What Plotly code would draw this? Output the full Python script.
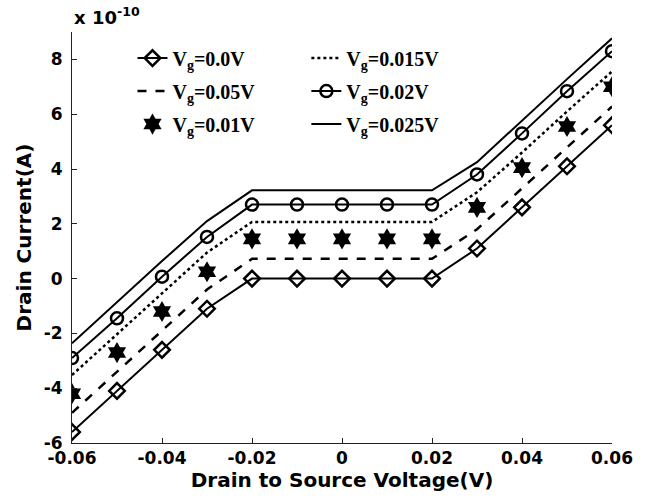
import plotly.graph_objects as go

# Drain-source voltage (V)
vds = [-0.06, -0.05, -0.04, -0.03, -0.02, -0.01, 0.0, 0.01, 0.02, 0.03, 0.04, 0.05, 0.06]

# Drain current in units of 1e-10 A
i_vg000 = [-5.6, -4.1, -2.6, -1.1, 0.0, 0.0, 0.0, 0.0, 0.0, 1.1, 2.6, 4.1, 5.6]
i_vg005 = [-4.9, -3.4, -1.9, -0.4, 0.72, 0.72, 0.72, 0.72, 0.72, 1.8, 3.3, 4.8, 6.28]
i_vg010 = [-4.2, -2.7, -1.2, 0.25, 1.45, 1.45, 1.45, 1.45, 1.45, 2.6, 4.05, 5.55, 7.0]
i_vg015 = [-3.52, -2.02, -0.52, 0.95, 2.07, 2.07, 2.07, 2.07, 2.07, 3.15, 4.6, 6.1, 7.56]
i_vg020 = [-2.9, -1.45, 0.07, 1.52, 2.7, 2.7, 2.7, 2.7, 2.7, 3.8, 5.3, 6.84, 8.3]
i_vg025 = [-2.36, -0.86, 0.64, 2.1, 3.22, 3.22, 3.22, 3.22, 3.22, 4.25, 5.78, 7.28, 8.77]

labels = ["V<sub>g</sub>=0.0V", "V<sub>g</sub>=0.05V", "V<sub>g</sub>=0.01V",
          "V<sub>g</sub>=0.015V", "V<sub>g</sub>=0.02V", "V<sub>g</sub>=0.025V"]

x_tickvals = [-0.06, -0.04, -0.02, 0.0, 0.02, 0.04, 0.06]
x_ticktext = ["-0.06", "-0.04", "-0.02", "0", "0.02", "0.04", "0.06"]
y_tickvals = [-6, -4, -2, 0, 2, 4, 6, 8]
y_ticktext = ["-6", "-4", "-2", "0", "2", "4", "6", "8"]

BLACK = "#000000"
fig = go.Figure()

fig.add_trace(go.Scatter(x=vds, y=i_vg000, name=labels[0], mode="lines+markers",
                         line=dict(color=BLACK, width=2),
                         marker=dict(symbol="diamond-open", size=12, color=BLACK, line=dict(width=2.5)),
                         legend="legend", legendgroup="a"))
fig.add_trace(go.Scatter(x=vds, y=i_vg005, name=labels[1], mode="lines",
                         line=dict(color=BLACK, width=2.5, dash="dash"),
                         legend="legend", legendgroup="b"))
fig.add_trace(go.Scatter(x=vds, y=i_vg010, name=labels[2], mode="markers",
                         marker=dict(symbol="hexagram", size=16, color=BLACK),
                         legend="legend", legendgroup="c"))
fig.add_trace(go.Scatter(x=vds, y=i_vg015, name=labels[3], mode="lines",
                         line=dict(color=BLACK, width=2.5, dash="dot"),
                         legend="legend2", legendgroup="d"))
fig.add_trace(go.Scatter(x=vds, y=i_vg020, name=labels[4], mode="lines+markers",
                         line=dict(color=BLACK, width=2),
                         marker=dict(symbol="circle-open", size=12, color=BLACK, line=dict(width=2.5)),
                         legend="legend2", legendgroup="e"))
fig.add_trace(go.Scatter(x=vds, y=i_vg025, name=labels[5], mode="lines",
                         line=dict(color=BLACK, width=2),
                         legend="legend2", legendgroup="f"))

axis_font = dict(family="DejaVu Sans", size=17, color=BLACK, weight="bold")
title_font = dict(family="DejaVu Sans", size=20, color=BLACK, weight="bold")
legend_font = dict(family="Liberation Serif", size=20, color=BLACK, weight="bold")

fig.update_layout(
    width=645, height=498,
    margin=dict(l=72, r=26, t=32, b=55),
    paper_bgcolor="white", plot_bgcolor="white",
    showlegend=True,
    legend=dict(x=0.112, y=0.984, xanchor="left", yanchor="top", bgcolor="rgba(0,0,0,0)",
                font=legend_font, traceorder="grouped", tracegroupgap=4, itemwidth=30),
    legend2=dict(x=0.434, y=0.984, xanchor="left", yanchor="top", bgcolor="rgba(0,0,0,0)",
                 font=legend_font, traceorder="grouped", tracegroupgap=4, itemwidth=30),
    xaxis=dict(range=[-0.06, 0.06], tickvals=x_tickvals, ticktext=x_ticktext,
               showgrid=False, zeroline=False, showline=True, linecolor="#222", linewidth=1,
               ticks="inside", ticklen=5, tickcolor="#222", tickfont=axis_font,
               title=dict(text="Drain to Source Voltage(V)", font=title_font, standoff=2)),
    yaxis=dict(range=[-6, 9], tickvals=y_tickvals, ticktext=y_ticktext,
               showgrid=False, zeroline=False, showline=True, linecolor="#222", linewidth=1,
               ticks="inside", ticklen=5, tickcolor="#222", tickfont=axis_font,
               ticklabelstandoff=5,
               title=dict(text="Drain Current(A)", font=title_font, standoff=6)),
    annotations=[dict(text="x 10<sup>-10</sup>", x=0, y=1, xref="paper", yref="paper",
                      xanchor="left", yanchor="bottom", showarrow=False, yshift=2,
                      font=dict(family="DejaVu Sans", size=18, color=BLACK, weight="bold"))],
)

fig.write_html("out.html")
